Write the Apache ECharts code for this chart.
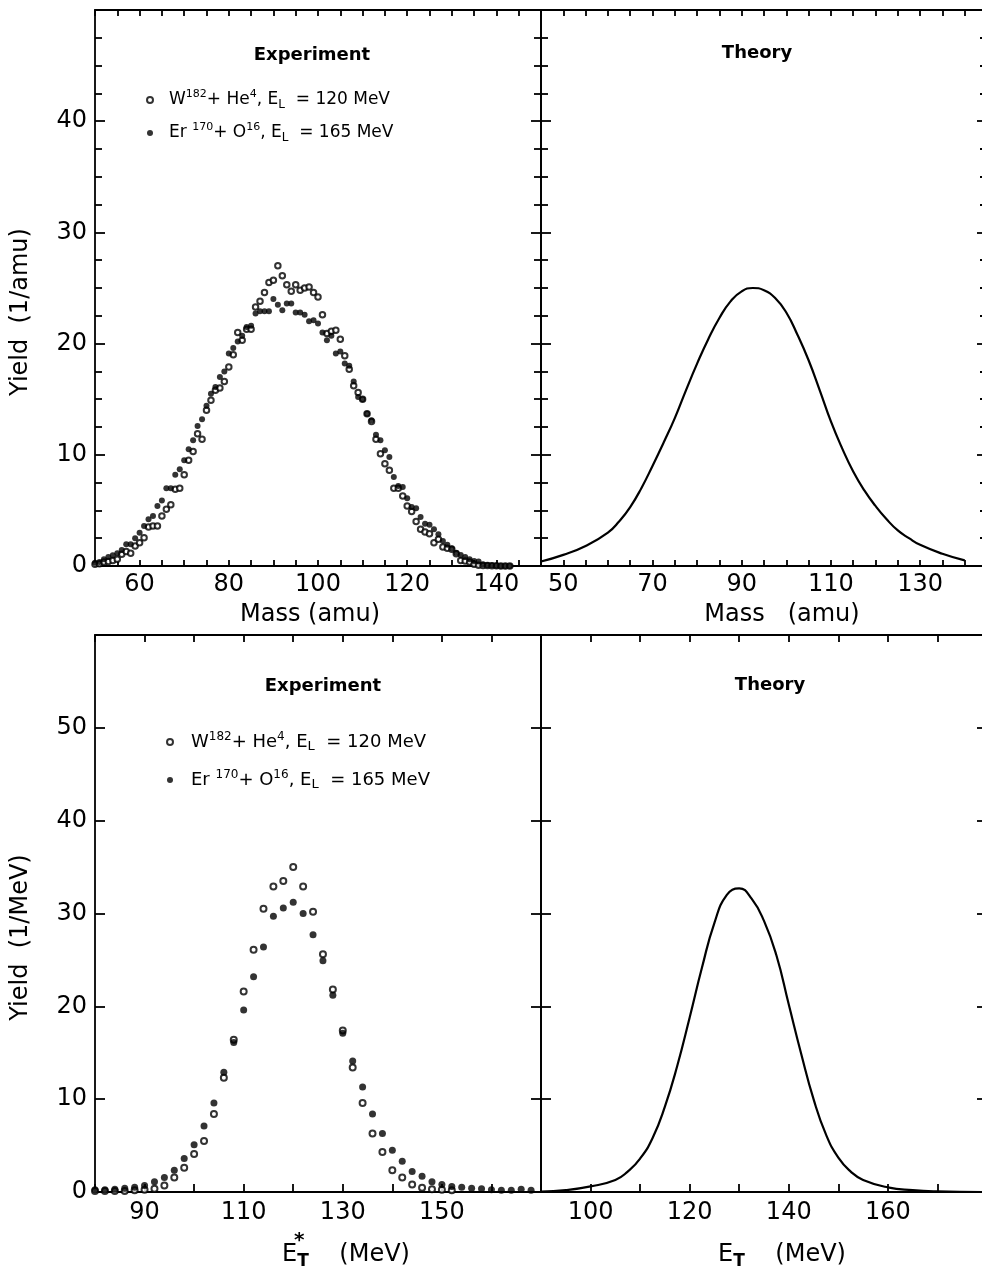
<html>
<head>
    <meta charset="utf-8">
    <script src="https://cdn.jsdelivr.net/npm/echarts@6.0.0/dist/echarts.min.js"></script>
    <style>
        html, body { margin: 0; padding: 0; background: #fff; }
        #main { width: 982px; height: 1277px; }
    </style>
</head>
<body>
<div id="main"></div>
<script>
    // ---- data ----
    // top row: yield per amu vs fragment mass
    const massTop = [50, 51, 52, 53, 54, 55, 56, 57, 58, 59, 60, 61, 62, 63, 64, 65, 66, 67, 68, 69,
        70, 71, 72, 73, 74, 75, 76, 77, 78, 79, 80, 81, 82, 83, 84, 85, 86, 87, 88, 89,
        90, 91, 92, 93, 94, 95, 96, 97, 98, 99, 100, 101, 102, 103, 104, 105, 106, 107, 108, 109,
        110, 111, 112, 113, 114, 115, 116, 117, 118, 119, 120, 121, 122, 123, 124, 125, 126, 127, 128, 129,
        130, 131, 132, 133, 134, 135, 136, 137, 138, 139, 140, 141, 142, 143];
    const yieldMassW = [0.15, 0.2, 0.35, 0.4, 0.5, 0.6, 1.05, 1.3, 1.15, 1.8,
        2.1, 2.55, 3.5, 3.6, 3.6, 4.5, 5.1, 5.5, 6.9, 7.0,
        8.2, 9.5, 10.3, 11.9, 11.4, 14.0, 14.9, 15.8, 16.0, 16.6,
        17.9, 19.0, 21.0, 20.3, 21.3, 21.3, 23.3, 23.8, 24.6, 25.5,
        25.7, 27.0, 26.1, 25.3, 24.7, 25.3, 24.8, 25.0, 25.1, 24.6,
        24.2, 22.6, 20.9, 21.1, 21.2, 20.4, 18.9, 17.7, 16.2, 15.6,
        15.0, 13.7, 13.0, 11.4, 10.1, 9.2, 8.6, 7.0, 7.0, 6.3,
        5.4, 4.9, 4.0, 3.3, 3.05, 2.9, 2.1, 2.4, 1.7, 1.6,
        1.5, 1.1, 0.5, 0.45, 0.36, 0.15, 0.06, 0.05, 0.05, 0.02,
        0.02, 0, 0, 0];
    const yieldMassEr = [0.3, 0.36, 0.6, 0.8, 0.97, 1.14, 1.44, 1.95, 1.95, 2.5,
        3.0, 3.6, 4.2, 4.5, 5.4, 5.9, 7.0, 7.0, 8.2, 8.7,
        9.5, 10.5, 11.3, 12.6, 13.2, 14.4, 15.5, 16.1, 17.0, 17.5,
        19.1, 19.6, 20.2, 20.7, 21.5, 21.6, 22.7, 22.9, 22.9, 22.9,
        24.0, 23.5, 23.0, 23.6, 23.6, 22.8, 22.8, 22.6, 22.0, 22.1,
        21.8, 21.0, 20.3, 20.7, 19.1, 19.3, 18.2, 18.0, 16.6, 15.2,
        15.0, 13.7, 13.1, 11.8, 11.3, 10.4, 9.8, 8.0, 7.2, 7.1,
        6.1, 5.3, 5.2, 4.4, 3.8, 3.7, 3.3, 2.85, 2.25, 1.9,
        1.6, 1.2, 1.0, 0.8, 0.6, 0.45, 0.4, 0.15, 0.1, 0.06,
        0.03, 0, 0, 0];
    const massTheory = [45, 50, 55, 60, 62.5, 65, 67.5, 70, 72.5, 75, 77.5, 80, 82.5, 85, 87.5, 90, 92.5, 95,
        97.5, 100, 102.5, 105, 107.5, 110, 112.5, 115, 117.5, 120, 122.5, 125, 127.5, 130, 135, 140];
    const yieldMassTheory = [0.4, 1.0, 1.8, 3.0, 4.0, 5.3, 7.0, 9.0, 11.1, 13.3, 15.8, 18.2, 20.4, 22.3, 23.8, 24.7, 25.0, 24.8,
        24.1, 22.8, 20.8, 18.5, 15.8, 13.0, 10.6, 8.5, 6.8, 5.4, 4.2, 3.2, 2.5, 1.9, 1.1, 0.5];

    // bottom row: yield per MeV vs total kinetic energy
    const energyW = [80, 82, 84, 86, 88, 90, 92, 94, 96, 98, 100, 102, 104, 106, 108, 110, 112, 114, 116, 118,
        120, 122, 124, 126, 128, 130, 132, 134, 136, 138, 140, 142, 144, 146, 148, 150, 152];
    const yieldEnergyW = [0.1, 0.1, 0.1, 0.1, 0.2, 0.25, 0.35, 0.7, 1.55, 2.6, 4.1, 5.5, 8.4, 12.3, 16.4, 21.6, 26.1, 30.5, 32.9, 33.5,
        35.0, 32.9, 30.2, 25.6, 21.8, 17.4, 13.4, 9.6, 6.3, 4.3, 2.35, 1.55, 0.8, 0.45, 0.3, 0.25, 0.2];
    const energyEr = [80, 82, 84, 86, 88, 90, 92, 94, 96, 98, 100, 102, 104, 106, 108, 110, 112, 114, 116, 118,
        120, 122, 124, 126, 128, 130, 132, 134, 136, 138, 140, 142, 144, 146, 148, 150, 152, 154, 156, 158,
        160, 162, 164, 166, 168];
    const yieldEnergyEr = [0.25, 0.25, 0.3, 0.4, 0.5, 0.7, 1.1, 1.55, 2.35, 3.6, 5.1, 7.1, 9.6, 12.9, 16.1, 19.6, 23.2, 26.4, 29.7, 30.6,
        31.2, 30.0, 27.7, 24.9, 21.2, 17.1, 14.1, 11.3, 8.4, 6.3, 4.5, 3.3, 2.2, 1.7, 1.1, 0.8, 0.6, 0.5, 0.4, 0.35,
        0.25, 0.2, 0.2, 0.3, 0.2];
    const energyTheory = [90, 95, 100, 105, 107.5, 110, 112.5, 115, 117.5, 120, 122.5, 125, 127.5, 130, 132.5, 135,
        137.5, 140, 142.5, 145, 147.5, 150, 152.5, 155, 160, 165, 170, 180];
    const yieldEnergyTheory = [0.05, 0.2, 0.6, 1.3, 2.2, 3.6, 5.8, 9.2, 13.6, 18.8, 24.2, 29.0, 32.0, 32.7, 31.6, 29.2,
        25.5, 20.2, 14.9, 10.0, 6.2, 3.7, 2.2, 1.3, 0.5, 0.2, 0.07, 0];

    // tick labels that are printed
    const labelsMassLeft = [60, 80, 100, 120, 140];
    const labelsMassRight = [50, 70, 90, 110, 130];
    const labelsEnergyLeft = [90, 110, 130, 150];
    const labelsEnergyRight = [100, 120, 140, 160];
    const labelsYieldTop = [0, 10, 20, 30, 40];
    const labelsYieldBottom = [0, 10, 20, 30, 40, 50];

    const nameW = 'W182 + He4';
    const nameEr = 'Er170 + O16';

    const FONT = 'DejaVu Sans';
    const black = {color: '#000', width: 1.8};

    function pairs(xs, ys) {
        return xs.map(function (x, i) { return [x, ys[i]]; });
    }

    function labelFn(list) {
        return function (v) { return list.indexOf(Math.round(v * 100) / 100) >= 0 ? String(v) : ''; };
    }

    function xAxisBottom(grid, min, max, interval, shown, tickLen, margin, name, gap, pad) {
        return {
            type: 'value', gridIndex: grid, position: 'bottom', min: min, max: max, interval: interval,
            axisLine: {show: true, onZero: false, lineStyle: black},
            axisTick: {show: true, inside: true, length: tickLen, lineStyle: black},
            axisLabel: {show: true, margin: margin, color: '#000', fontFamily: FONT, fontSize: 24,
                formatter: labelFn(shown)},
            splitLine: {show: false},
            name: name, nameLocation: 'middle', nameGap: gap,
            nameTextStyle: {color: '#000', fontFamily: FONT, fontSize: 24, padding: pad,
                rich: {
                    e: {fontSize: 24, fontFamily: FONT, color: '#000', lineHeight: 30},
                    s: {fontSize: 17, fontFamily: FONT, fontWeight: 'bold', color: '#000', lineHeight: 14, verticalAlign: 'bottom'}
                }}
        };
    }

    function xAxisTop(grid, min, max, interval, tickLen) {
        return {
            type: 'value', gridIndex: grid, position: 'top', min: min, max: max, interval: interval,
            axisLine: {show: true, onZero: false, lineStyle: black},
            axisTick: {show: true, inside: true, length: tickLen, lineStyle: black},
            axisLabel: {show: false},
            splitLine: {show: false}
        };
    }

    function yAxis(grid, pos, max, minor, shown, name) {
        const ax = {
            type: 'value', gridIndex: grid, position: pos, min: 0, max: max, interval: 10,
            axisLine: {show: true, onZero: false, lineStyle: black},
            axisTick: {show: true, inside: true, length: 10, lineStyle: black},
            minorTick: {show: minor, splitNumber: 4, length: 7, lineStyle: black},
            axisLabel: {show: !!shown, margin: 8, color: '#000', fontFamily: FONT, fontSize: 24,
                formatter: shown ? labelFn(shown) : null},
            splitLine: {show: false}
        };
        if (name) {
            ax.name = name;
            ax.nameLocation = 'middle';
            ax.nameGap = 62;
            ax.nameTextStyle = {color: '#000', fontFamily: FONT, fontSize: 24, padding: [0, 48, 0, 0]};
        }
        return ax;
    }

    const legendRich = function (size) {
        return {
            b: {fontSize: size, fontFamily: FONT, color: '#000', lineHeight: 22},
            sup: {fontSize: size - 6, fontFamily: FONT, color: '#000', lineHeight: 12, verticalAlign: 'top'},
            sub: {fontSize: size - 5, fontFamily: FONT, color: '#000', lineHeight: 12, verticalAlign: 'bottom'}
        };
    };
    const legendText = function (name) {
        if (name === nameW) return '{b|W}{sup|182}{b|+ He}{sup|4}{b|, E}{sub|L}{b|  = 120 MeV}';
        return '{b|Er }{sup|170}{b|+ O}{sup|16}{b|, E}{sub|L}{b|  = 165 MeV}';
    };

    const myChart = echarts.init(document.getElementById('main'));
    const option = {
        animation: false,
        backgroundColor: '#fff',
        grid: [
            {left: 95, top: 10, width: 446, height: 556, outerBoundsMode: 'none', containLabel: false},
            {left: 541, top: 10, width: 446, height: 556, outerBoundsMode: 'none', containLabel: false},
            {left: 95, top: 635, width: 446, height: 557, outerBoundsMode: 'none', containLabel: false},
            {left: 541, top: 635, width: 446, height: 557, outerBoundsMode: 'none', containLabel: false}
        ],
        title: [
            {text: 'Experiment', left: 307, top: 41, textAlign: 'center',
                textStyle: {fontFamily: FONT, fontSize: 18, fontWeight: 'bold', color: '#000'}},
            {text: 'Theory', left: 752, top: 39, textAlign: 'center',
                textStyle: {fontFamily: FONT, fontSize: 18, fontWeight: 'bold', color: '#000'}},
            {text: 'Experiment', left: 318, top: 672, textAlign: 'center',
                textStyle: {fontFamily: FONT, fontSize: 18, fontWeight: 'bold', color: '#000'}},
            {text: 'Theory', left: 765, top: 671, textAlign: 'center',
                textStyle: {fontFamily: FONT, fontSize: 18, fontWeight: 'bold', color: '#000'}}
        ],
        legend: [
            {data: [nameW, nameEr], orient: 'vertical', left: 141, top: 84, itemGap: 11,
                itemWidth: 6, itemHeight: 6, selectedMode: false, formatter: legendText,
                textStyle: {padding: [0, 0, 0, 11], rich: legendRich(17)}},
            {data: [nameW, nameEr], orient: 'vertical', left: 161, top: 726, itemGap: 16,
                itemWidth: 6, itemHeight: 6, selectedMode: false, formatter: legendText,
                textStyle: {padding: [0, 0, 0, 13], rich: legendRich(18)}}
        ],
        xAxis: [
            xAxisBottom(0, 50, 150, 5, labelsMassLeft, 6, 7, 'Mass (amu)', 37, [0, 16, 0, 0]),
            xAxisTop(0, 50, 150, 5, 6),
            xAxisBottom(1, 45, 145, 5, labelsMassRight, 6, 7, 'Mass   (amu)', 37, [0, 0, 0, 36]),
            xAxisTop(1, 45, 145, 5, 6),
            xAxisBottom(2, 80, 170, 10, labelsEnergyLeft, 8, 9, '{e|E}{s|T}{e|    (MeV)}', 48, [0, 0, 0, 56]),
            xAxisTop(2, 80, 170, 10, 7),
            xAxisBottom(3, 90, 180, 10, labelsEnergyRight, 8, 9, '{e|E}{s|T}{e|    (MeV)}', 48, [0, 0, 0, 36]),
            xAxisTop(3, 90, 180, 10, 7)
        ],
        yAxis: [
            yAxis(0, 'left', 50, true, labelsYieldTop, 'Yield  (1/amu)'),
            yAxis(0, 'right', 50, true, null),
            yAxis(1, 'left', 50, true, null),
            yAxis(1, 'right', 50, true, null),
            yAxis(2, 'left', 60, false, labelsYieldBottom, 'Yield  (1/MeV)'),
            yAxis(2, 'right', 60, false, null),
            yAxis(3, 'left', 60, false, null),
            yAxis(3, 'right', 60, false, null)
        ],
        graphic: [
            {type: 'text', x: 294, y: 1231, style: {text: '*', font: 'bold 20px "DejaVu Sans"', fill: '#000'}}
        ],
        series: [
            {name: nameW, type: 'scatter', xAxisIndex: 0, yAxisIndex: 0, symbol: 'emptyCircle', symbolSize: 5.5,
                itemStyle: {color: '#000', borderWidth: 1.3}, data: pairs(massTop, yieldMassW)},
            {name: nameEr, type: 'scatter', xAxisIndex: 0, yAxisIndex: 0, symbol: 'circle', symbolSize: 6,
                itemStyle: {color: '#000'}, data: pairs(massTop, yieldMassEr)},
            {name: 'Theory (mass)', type: 'line', xAxisIndex: 2, yAxisIndex: 2, smooth: 0.5, showSymbol: false,
                lineStyle: {color: '#000', width: 2.2}, data: pairs(massTheory, yieldMassTheory)},
            {name: nameW, type: 'scatter', xAxisIndex: 4, yAxisIndex: 4, symbol: 'emptyCircle', symbolSize: 6,
                itemStyle: {color: '#000', borderWidth: 1.3}, data: pairs(energyW, yieldEnergyW)},
            {name: nameEr, type: 'scatter', xAxisIndex: 4, yAxisIndex: 4, symbol: 'circle', symbolSize: 7,
                itemStyle: {color: '#000'}, data: pairs(energyEr, yieldEnergyEr)},
            {name: 'Theory (energy)', type: 'line', xAxisIndex: 6, yAxisIndex: 6, smooth: 0.5, showSymbol: false,
                lineStyle: {color: '#000', width: 2.2}, data: pairs(energyTheory, yieldEnergyTheory)}
        ]
    };
    myChart.setOption(option);
</script>
</body>
</html>
